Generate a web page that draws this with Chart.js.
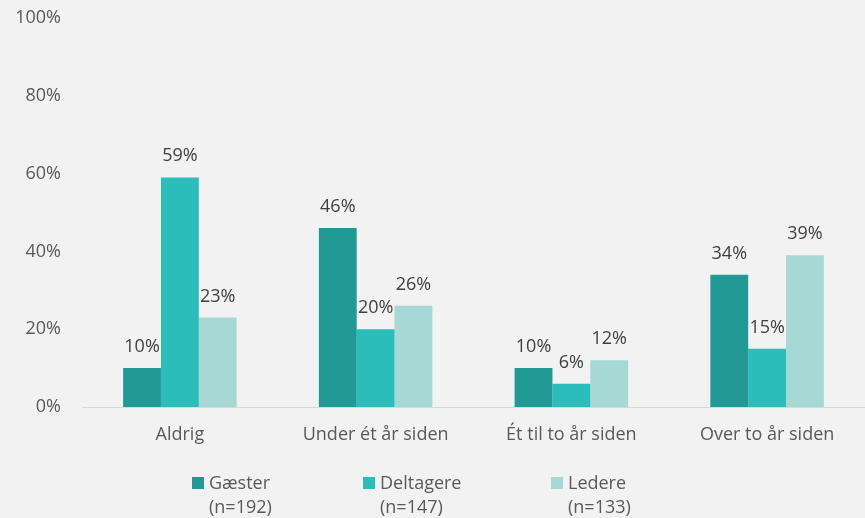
<!DOCTYPE html>
<html>
<head>
<meta charset="utf-8">
<script src="https://cdn.jsdelivr.net/npm/chart.js@4"></script>
<style>
  html, body { margin: 0; padding: 0; background: #f2f2f2; }
  canvas { display: block; }
</style>
</head>
<body>
<canvas id="chart" width="865" height="518"></canvas>
<script>
const categories = ['Aldrig', 'Under ét år siden', 'Ét til to år siden', 'Over to år siden'];
const gaester = [10, 46, 10, 34];
const deltagere = [59, 20, 6, 15];
const ledere = [23, 26, 12, 39];
const seriesLabels = [['Gæster', '(n=192)'], ['Deltagere', '(n=147)'], ['Ledere', '(n=133)']];
const seriesColors = ['#219a96', '#2bbdba', '#a6d8d6'];
const yTicks = [0, 20, 40, 60, 80, 100];

const FONT = '"Open Sans", sans-serif';

// value labels above bars
const valueLabels = {
  id: 'valueLabels',
  afterDatasetsDraw(chart) {
    const ctx = chart.ctx;
    ctx.save();
    ctx.font = '18px ' + FONT;
    ctx.fillStyle = '#404040';
    ctx.textAlign = 'center';
    ctx.textBaseline = 'alphabetic';
    chart.data.datasets.forEach((ds, i) => {
      chart.getDatasetMeta(i).data.forEach((bar, j) => {
        ctx.fillText(ds.data[j] + '%', bar.x, bar.y - 16);
      });
    });
    ctx.restore();
  }
};

// two-line legend at the bottom
const bottomLegend = {
  id: 'bottomLegend',
  afterDraw(chart) {
    const ctx = chart.ctx;
    const xs = [192, 363, 551];
    ctx.save();
    ctx.font = '18px ' + FONT;
    ctx.textAlign = 'left';
    ctx.textBaseline = 'alphabetic';
    chart.data.datasets.forEach((ds, i) => {
      ctx.fillStyle = ds.backgroundColor;
      ctx.fillRect(xs[i], 477, 12, 12);
      ctx.fillStyle = '#595959';
      ctx.fillText(seriesLabels[i][0], xs[i] + 17, 489);
      ctx.fillText(seriesLabels[i][1], xs[i] + 17, 513);
    });
    ctx.restore();
  }
};

new Chart(document.getElementById('chart'), {
  type: 'bar',
  data: {
    labels: categories,
    datasets: [
      { label: 'Gæster', data: gaester, backgroundColor: seriesColors[0] },
      { label: 'Deltagere', data: deltagere, backgroundColor: seriesColors[1] },
      { label: 'Ledere', data: ledere, backgroundColor: seriesColors[2] },
    ],
  },
  options: {
    responsive: false,
    animation: false,
    layout: { padding: { top: 18, right: 0, bottom: 0, left: 0 } },
    datasets: { bar: { categoryPercentage: 0.58, barPercentage: 1.0 } },
    scales: {
      x: {
        grid: { display: false, drawTicks: false },
        border: { display: true, color: '#d9d9d9', width: 1 },
        ticks: { color: '#595959', font: { family: FONT, size: 18 }, padding: 17 },
        afterFit(scale) { scale.height = 111; },
      },
      y: {
        min: 0,
        max: 100,
        afterBuildTicks(scale) { scale.ticks = yTicks.map(v => ({ value: v })); },
        grid: { display: false, drawTicks: false },
        border: { display: false },
        ticks: {
          color: '#595959',
          font: { family: FONT, size: 18 },
          padding: 21,
          callback: v => v + '%',
        },
        afterFit(scale) {
          scale.width = 82;
          scale.paddingTop = 0;
          scale.paddingBottom = 0;
        },
      },
    },
    plugins: {
      legend: { display: false },
      tooltip: { enabled: false },
    },
  },
  plugins: [valueLabels, bottomLegend],
});
</script>
</body>
</html>
